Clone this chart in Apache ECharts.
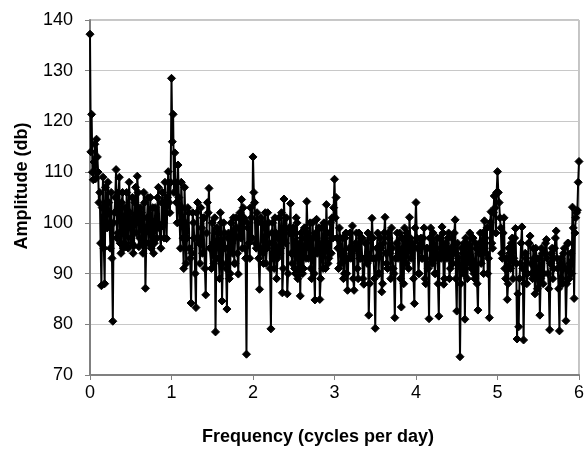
<!DOCTYPE html>
<html>
<head>
<meta charset="utf-8">
<script src="https://cdn.jsdelivr.net/npm/echarts@6/dist/echarts.min.js"></script>
<style>
html,body{margin:0;padding:0;background:#fff;}
#chart{width:587px;height:449px;}
</style>
</head>
<body>
<div id="chart"></div>
<script>
// Frequency grid (cycles per day)
const freqStart = 0;
const freqStep = 0.01;
// Amplitude (db) at even grid points (0, 0.02, 0.04, ...), per 1-cycle band
const ampBand0 = [137.2,121.4,108.5,115.5,116.5,110,106,87.6,109,88,
104,108,100,106,80.6,102,110.5,98,109,94,
106,96,95.3,100,108,97,105,95.5,107,109.2,
95.3,103,96,106,87.1,101,96,105,99,94,
103,97,107,99,104,100,108,96.9,110.1,102];
const ampBand1 = [128.5,121.4,113.8,104,111.4,100,108,97,107,92,
103,95,84.2,102,97,83.3,104,96,103,94,
101,85.8,104,106.8,95,100,92,78.5,99,93,
102,84.6,100,95,83,98,90,96,101,92,
99,89.9,102,104.6,103,95,74.1,99,93,101];
const ampBand2 = [113,104,95,100,86.9,101,94,99,92,102,
96,79.1,100,91,98,93,101,95,86.2,104.7,
96,86,99,103.8,92,98,90,100,94,85.6,
97,91,99,104.2,93,100,89,97,84.8,100.7,
95,84.9,99,91,97,103.6,92,98,94,97];
const ampBand3 = [108.6,105,95,99,92,97,90,98,86.7,95,
93,99.4,86.7,96,91,98,93,97,87.9,96,
92,81.8,97,100.9,93,79.2,95,90,97,86.4,
96,101.1,92,98,94,99,91,81.3,96,93,
98,83.4,95,99,92,97,101.1,93,96,84.1];
const ampBand4 = [104,95,90,97,93,99,88,95,81.1,99,
92,96,90,97,81.6,94,99.2,87.9,96,93,
98,91,97,94,100.6,82.6,93,73.6,95,90,
81,96,93,98,91,97,89,95,82.8,96,
92,98,100.4,94,90,81.3,102.2,95,105.3,98];
const ampBand5 = [110.1,104,99,93,101,89,84.9,95,91,97,
93,98.9,77.1,79.5,92,99.2,76.9,94,88,96,
97.4,90,95,86,93,89,81.8,95,88,94,
96.7,90,78.9,94,89,95,98.4,91,78.7,93,
88,95,80.7,96,89,94,103.1,85.1,101,102.5,
112.1];
// Amplitude (db) at odd grid points (0.01, 0.03, ...), per 1-cycle band
const ampMid0 = [114,110,112,108.7,113,104,96,103,95,107,
99,104,95,93,100,105,97,106,96,104,
95,103,106,95,102,96,94,104,98,106,
97,102,94,104,96,105,99,95,103,96,
100,105,99,95,106,97,103,105,104,108];
const ampMid1 = [116,106,108,100,105,95,103,91,100,97,
102,93,94,100,90,102,97,92,99,101,
91,98,102,95,91,96,101,93,98,89,
100,92,98,91,97,89,100,94,92,101,
94,101,97,95,101,93,100,96,103,97];
const ampMid2 = [106,96,102,93,95,100,92,102,95,100,
91,98,93,101,89,97,94,102,91,99,
101,90,98,94,99,91,101,89,96,98,
90,99,93,98,95,91,100,90,98,94,
99,89,96,100,91,98,93,100,101,103];
const ampMid3 = [101,97,91,97,94,89,97,90,93,98,
94,89,95,98,89,93,97,89,93,96,
98,88,93,97,89,93,98,90,95,88,
98,94,91,97,89,95,90,93,98,94,
89,97,88,95,98,91,97,95,89,99];
const ampMid4 = [97,90,96,93,97,89,95,91,97,93,
98,90,95,88,97,93,98,89,95,97,
89,95,92,98,89,96,92,88,94,96,
97,89,95,92,97,90,96,88,94,98,
95,90,97,99,93,100,96,102,103,106];
const ampMid5 = [106,101,94,98,91,93,88,94,96,89,
97,92,86,89,96,91,88,93,90,96,
92,89,93,95,87,93,89,94,90,96,
93,87,92,95,91,97,93,87,92,89,
94,91,88,96,92,90,99,98,102,108];
const xTicks = [0,1,2,3,4,5,6];
const yTicks = [70,80,90,100,110,120,130,140];

const evenVals = [].concat(ampBand0, ampBand1, ampBand2, ampBand3, ampBand4, ampBand5);
const oddVals = [].concat(ampMid0, ampMid1, ampMid2, ampMid3, ampMid4, ampMid5);
const amplitudes = [];
evenVals.forEach((v, i) => { amplitudes.push(v); if (i < oddVals.length) amplitudes.push(oddVals[i]); });
const seriesData = amplitudes.map((a, i) => [+(freqStart + i * freqStep).toFixed(4), a]);

const FONT = '"Liberation Sans", Arial, sans-serif';
const chart = echarts.init(document.getElementById('chart'), null, {renderer: 'canvas'});
chart.setOption({
  animation: false,
  backgroundColor: '#fff',
  grid: {left: 90, right: 7, top: 20, bottom: 74, show: true, borderColor: '#8c8c8c', borderWidth: 1, containLabel: false},
  xAxis: {
    type: 'value', min: xTicks[0], max: xTicks[xTicks.length-1], interval: 1,
    axisLine: {show: true, onZero: false, lineStyle: {color: '#808080', width: 2}},
    axisTick: {show: true, inside: false, length: 5, lineStyle: {color: '#808080', width: 1}},
    axisLabel: {color: '#000', fontSize: 18, fontFamily: FONT, margin: 9},
    splitLine: {show: false}
  },
  yAxis: {
    type: 'value', min: yTicks[0], max: yTicks[yTicks.length-1], interval: 10,
    axisLine: {show: true, lineStyle: {color: '#808080', width: 2}},
    axisTick: {show: true, inside: false, length: 5, lineStyle: {color: '#808080', width: 1}},
    axisLabel: {color: '#000', fontSize: 18, fontFamily: FONT, margin: 17},
    splitLine: {show: true, lineStyle: {color: '#c8c8c8', width: 1}}
  },
  graphic: [
    {type: 'text', x: 318, y: 437, style: {text: 'Frequency (cycles per day)', font: 'bold 18px ' + FONT, fill: '#000', textAlign: 'center', textVerticalAlign: 'middle'}},
    {type: 'text', x: 22, y: 186, rotation: Math.PI/2, style: {text: 'Amplitude (db)', font: 'bold 18px ' + FONT, fill: '#000', textAlign: 'center', textVerticalAlign: 'middle'}}
  ],
  series: [{
    type: 'line',
    data: seriesData,
    symbol: 'diamond',
    symbolSize: 8,
    showSymbol: true,
    showAllSymbol: true,
    lineStyle: {color: '#000', width: 2},
    itemStyle: {color: '#000', borderColor: '#000'},
    z: 5
  }]
});
</script>
</body>
</html>
